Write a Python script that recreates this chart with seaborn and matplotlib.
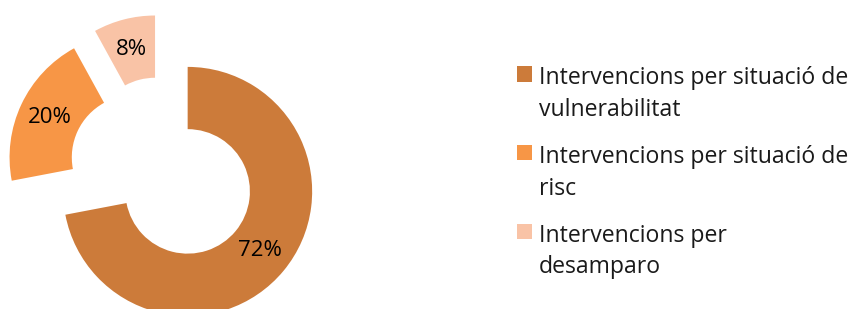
import matplotlib.pyplot as plt
import seaborn as sns

labels = ["Intervencions per situació de\nvulnerabilitat",
          "Intervencions per situació de\nrisc",
          "Intervencions per\ndesamparo"]
values = [72, 20, 8]
colors = ["#CC7B3A", "#F79646", "#F9C3A6"]

sns.set_theme(style="white")
plt.rcParams['font.family'] = ['Open Sans', 'DejaVu Sans']

W, H = 853, 309
R = 124.5  # outer radius in px
cx, cy = 163, 138  # pie centre in px from lower left

fig = plt.figure(figsize=(W / 100, H / 100), dpi=100)
ax = fig.add_axes([0, 0, 1, 1])

wedges, texts, autotexts = ax.pie(
    values, colors=colors, startangle=90, counterclock=False,
    explode=[0.257] * 3, radius=1, pctdistance=0.75,
    autopct=lambda p: f"{p:.0f}%",
    wedgeprops=dict(width=0.5, linewidth=0),
    textprops=dict(fontsize=16, color="black"))

ax.set_aspect('auto')
ax.set_xlim(-cx / R, (W - cx) / R)
ax.set_ylim(-cy / R, (H - cy) / R)
ax.axis('off')

leg = fig.legend(wedges, labels, loc='upper left',
                 bbox_to_anchor=(517 / W, 1 - 66 / H),
                 frameon=False, fontsize=16.6, borderpad=0, borderaxespad=0,
                 handlelength=0.66, handleheight=0.66, handletextpad=0.28,
                 labelspacing=1.0, labelcolor="#1a1a1a")
for t in leg.get_texts():
    t.set_linespacing(1.43)
# square next to the first line of each label
for col in leg._legend_handle_box.get_children():
    for row in col.get_children():
        row.align = "top"

fig.savefig("out.png", dpi=100)
